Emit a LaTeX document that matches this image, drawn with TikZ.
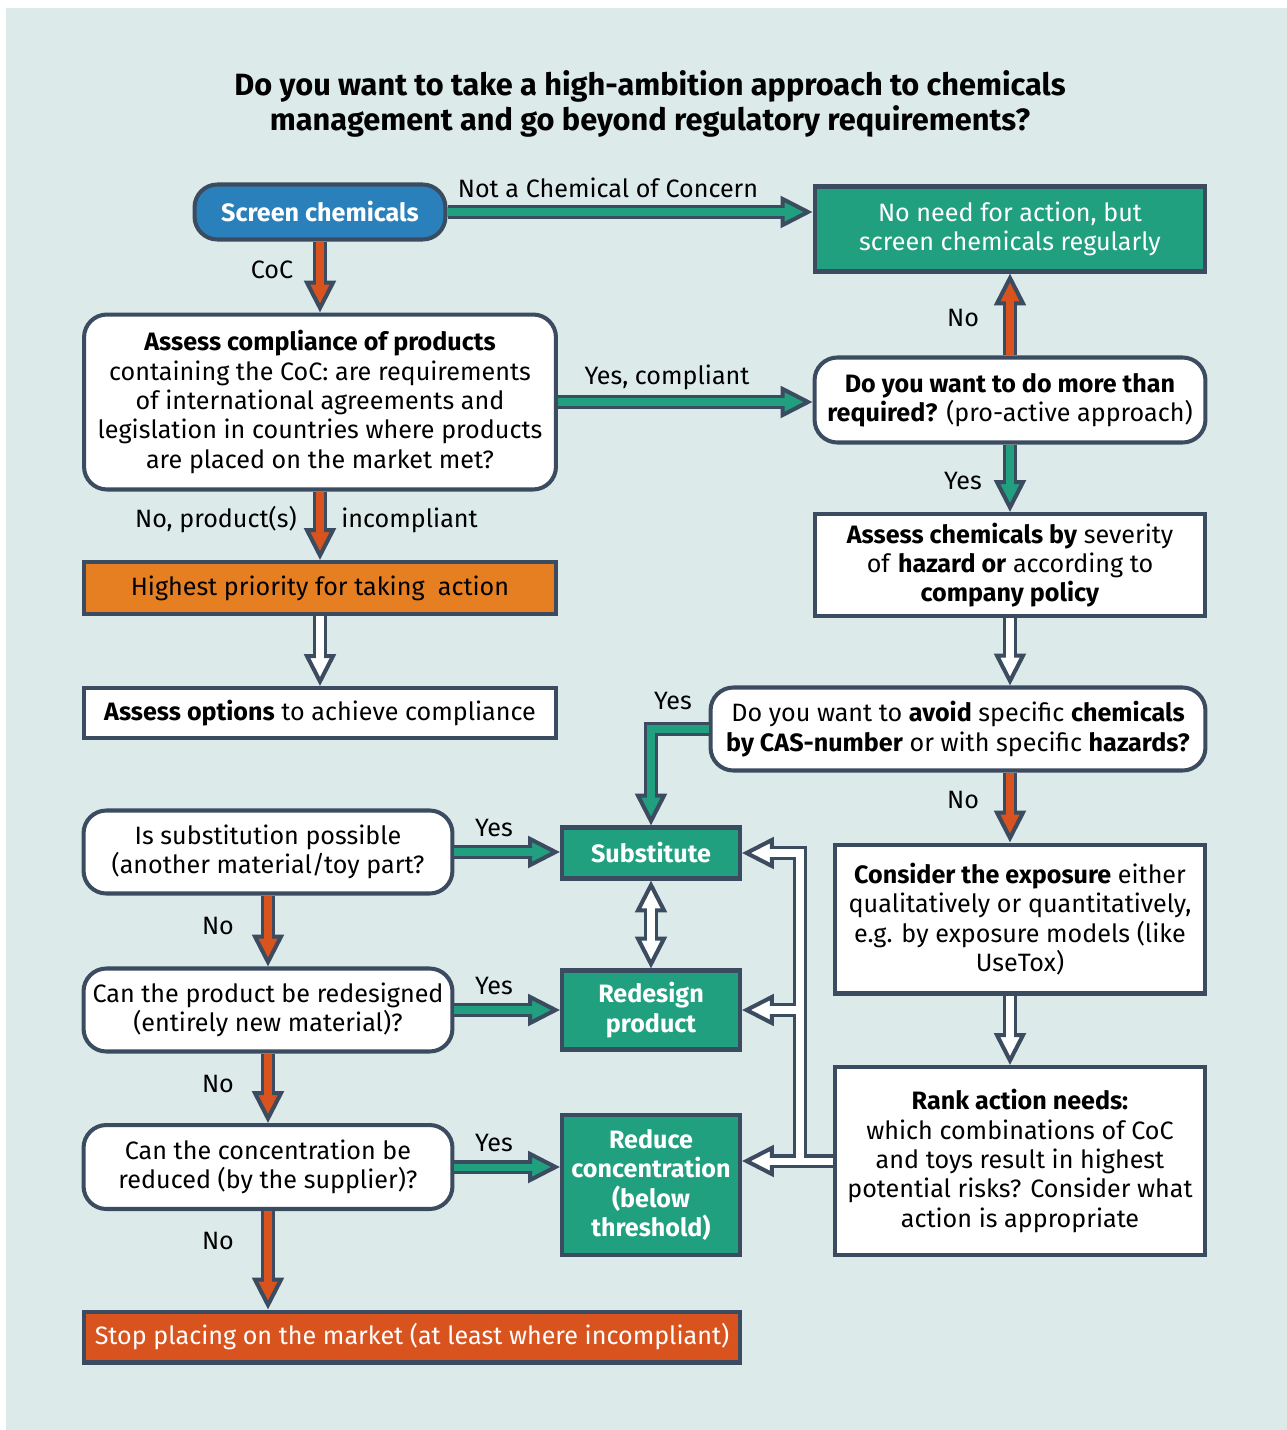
\documentclass[tikz,border=0pt]{standalone}
\usepackage{fontspec}
\setmainfont{Fira Sans}
\usetikzlibrary{calc}
\definecolor{bg}{HTML}{DCEBEA}
\definecolor{dk}{HTML}{3B4B60}
\definecolor{blu}{HTML}{2A80BA}
\definecolor{grn}{HTML}{20A07F}
\definecolor{org}{HTML}{E67E22}
\definecolor{rorg}{HTML}{D9531E}
\newcommand\bodyfont{\fontsize{14.3}{16.7}\selectfont}
\newcommand\fatarrow[4]{%
  \coordinate (fa-t) at ($(#4)!2.6pt!(#3)$);
  \coordinate (fa-b) at ($(#4)!17pt!(#3)$);
  \coordinate (fa-i) at ($(#4)!14pt!(#3)$);
  \draw[line width=8.5pt, dk] #2 (#3) -- (fa-b);
  \filldraw[fill=#1, draw=dk, line width=2.3pt] (fa-t) -- ($(fa-b)!7.4pt!90:(fa-t)$) -- ($(fa-b)!7.4pt!-90:(fa-t)$) -- cycle;
  \draw[line width=4pt, #1] #2 (#3) -- (fa-i);
}
\newcommand\fathead[3]{% color, target, from-direction point
  \coordinate (fh-t) at ($(#2)!2.6pt!(#3)$);
  \coordinate (fh-b) at ($(#2)!17pt!(#3)$);
  \filldraw[fill=#1, draw=dk, line width=2.3pt] (fh-t) -- ($(fh-b)!7.4pt!90:(fh-t)$) -- ($(fh-b)!7.4pt!-90:(fh-t)$) -- cycle;
}
\begin{document}
\begin{tikzpicture}[x=0.02cm,y=-0.02cm,
  box/.style={draw=dk, line width=2.3pt, align=center, inner sep=2pt, font=\bodyfont},
  rbox/.style={box, rounded corners=13pt},
  lbl/.style={font=\bodyfont, inner sep=0pt},
  shaft/.style={line width=8.5pt, dk, line join=miter},
  inner/.style={line width=4pt, white, line join=miter}]
\useasboundingbox (0,0) rectangle (1287,1430);
\fill[bg] (6,8) rectangle (1287,1430);

\node[font=\fontsize{17.5}{19.8}\selectfont\bfseries, align=center] (title) at (650,104)
  {Do you want to take a high-ambition approach to chemicals\\management and go beyond regulatory requirements?};

\node[rbox, fill=blu, text=white, font=\bodyfont\bfseries, minimum width=5.02cm, minimum height=1.1cm] (screen) at (320,212) {Screen chemicals};
\node[box, fill=grn, text=white, minimum width=7.82cm, minimum height=1.7cm] (noneed) at (1010,229) {No need for action, but\\screen chemicals regularly};
\node[rbox, fill=white, minimum width=9.44cm, minimum height=3.5cm] (compl) at (320,402)
  {\textbf{Assess compliance of products}\\containing the CoC: are requirements\\of international agreements and\\legislation in countries where products\\are placed on the market met?};
\node[rbox, fill=white, minimum width=7.82cm, minimum height=1.7cm] (more) at (1010,400)
  {\textbf{Do you want to do more than}\\\textbf{required?} (pro-active approach)};
\node[box, fill=org, minimum width=9.44cm, minimum height=1.04cm] (high) at (320,588) {Highest priority for taking\ \ action};
\node[box, fill=white, minimum width=9.44cm, minimum height=1.0cm] (opts) at (320,713) {\textbf{Assess options} to achieve compliance};
\node[box, fill=white, minimum width=7.82cm, minimum height=2.04cm] (sev) at (1010,565)
  {\textbf{Assess chemicals by} severity\\of \textbf{hazard or} according to\\\textbf{company policy}};
\node[rbox, fill=white, minimum width=9.9cm, minimum height=1.66cm] (avoid) at (958,729)
  {Do you want to \textbf{avoid} specific \textbf{chemicals}\\\textbf{by CAS-number} or with specific \textbf{hazards?}};
\node[rbox, fill=white, minimum width=7.38cm, minimum height=1.66cm] (issub) at (268,852)
  {Is substitution possible\\(another material/toy part?};
\node[box, fill=grn, text=white, font=\bodyfont\bfseries, minimum width=3.56cm, minimum height=1.02cm] (subst) at (651,853) {Substitute};
\node[box, fill=grn, text=white, font=\bodyfont\bfseries, minimum width=3.56cm, minimum height=1.58cm] (redes) at (651,1010) {Redesign\\product};
\node[box, fill=white, minimum width=7.42cm, minimum height=2.98cm] (consider) at (1020,919)
  {\textbf{Consider the exposure} either\\qualitatively or quantitatively,\\e.g. by exposure models (like\\UseTox)};
\node[rbox, fill=white, minimum width=7.38cm, minimum height=1.66cm] (redq) at (268,1010)
  {Can the product be redesigned\\(entirely new material)?};
\node[box, fill=white, minimum width=7.42cm, minimum height=3.76cm] (rank) at (1020,1161)
  {\textbf{Rank action needs:}\\which combinations of CoC\\and toys result in highest\\potential risks? Consider what\\action is appropriate};
\node[rbox, fill=white, minimum width=7.38cm, minimum height=1.68cm] (concq) at (268,1167)
  {Can the concentration be\\reduced (by the supplier)?};
\node[box, fill=grn, text=white, font=\bodyfont\bfseries, minimum width=3.56cm, minimum height=2.8cm] (reduce) at (651,1185)
  {Reduce\\concentration\\(below\\threshold)};
\node[box, fill=rorg, text=white, minimum width=13.12cm, minimum height=1.02cm] (stop) at (412,1337)
  {Stop placing on the market (at least where incompliant)};

% arrows
\fatarrow{grn}{}{screen.east}{noneed.west |- screen.east}
\fatarrow{rorg}{}{screen.south}{compl.north}
\fatarrow{grn}{}{compl.east}{more.west |- compl.east}
\fatarrow{rorg}{}{more.north}{noneed.south}
\fatarrow{grn}{}{more.south}{sev.north}
\fatarrow{rorg}{}{compl.south}{high.north}
\fatarrow{white}{}{high.south}{opts.north}
\fatarrow{white}{}{sev.south}{avoid.north -| sev.south}
\fatarrow{grn}{(avoid.west) --}{subst.north |- avoid.west}{subst.north}
\fatarrow{rorg}{}{avoid.south -| sev.south}{consider.north -| sev.south}
\fatarrow{white}{}{consider.south -| sev.south}{rank.north -| sev.south}
\fatarrow{grn}{}{issub.east}{subst.west |- issub.east}
\fatarrow{grn}{}{redq.east}{redes.west |- redq.east}
\fatarrow{grn}{}{concq.east}{reduce.west |- concq.east}
\fatarrow{rorg}{}{issub.south}{redq.north}
\fatarrow{rorg}{}{redq.south}{concq.north}
\fatarrow{rorg}{}{concq.south}{stop.north -| concq.south}

% double arrow substitute <-> redesign
\draw[shaft] ($(subst.south)!17pt!(redes.north)$) -- ($(redes.north)!17pt!(subst.south)$);
\fathead{white}{subst.south}{redes.north}
\fathead{white}{redes.north}{subst.south}
\draw[inner] ($(subst.south)!14pt!(redes.north)$) -- ($(redes.north)!14pt!(subst.south)$);

% tree from rank
\coordinate (tj) at (800,0);
\coordinate (r3) at (reduce.east |- rank.west);
\draw[shaft] (rank.west) -- ($(r3)!17pt!(rank.west)$);
\draw[shaft] (tj |- rank.west) -- (tj |- subst.east) -- ($(subst.east)!17pt!(tj |- subst.east)$);
\draw[shaft] (tj |- redes.east) -- ($(redes.east)!17pt!(tj |- redes.east)$);
\fathead{white}{r3}{rank.west}
\fathead{white}{subst.east}{tj |- subst.east}
\fathead{white}{redes.east}{tj |- redes.east}
\draw[inner] (rank.west) -- ($(r3)!14pt!(rank.west)$);
\draw[inner] (tj |- rank.west) -- (tj |- subst.east) -- ($(subst.east)!14pt!(tj |- subst.east)$);
\draw[inner] (tj |- redes.east) -- ($(redes.east)!14pt!(tj |- redes.east)$);

% labels
\node[lbl] (l1) at (608,188) {Not a Chemical of Concern};
\node[lbl] (l2) at (272,270) {CoC};
\node[lbl] (l3) at (667,377) {Yes, compliant};
\node[lbl] (l4) at (963,318) {No};
\node[lbl] (l5) at (963,481) {Yes};
\node[lbl, anchor=east] (l6) at (297,520) {No, product(s)};
\node[lbl, anchor=west] (l7) at (341,520) {incompliant};
\node[lbl] (l8) at (673,701) {Yes};
\node[lbl] (l9) at (963,800) {No};
\node[lbl] (l10) at (494,828) {Yes};
\node[lbl] (l11) at (494,986) {Yes};
\node[lbl] (l12) at (494,1143) {Yes};
\node[lbl] (l13) at (218,926) {No};
\node[lbl] (l14) at (218,1084) {No};
\node[lbl] (l15) at (218,1241) {No};
\end{tikzpicture}
\end{document}
